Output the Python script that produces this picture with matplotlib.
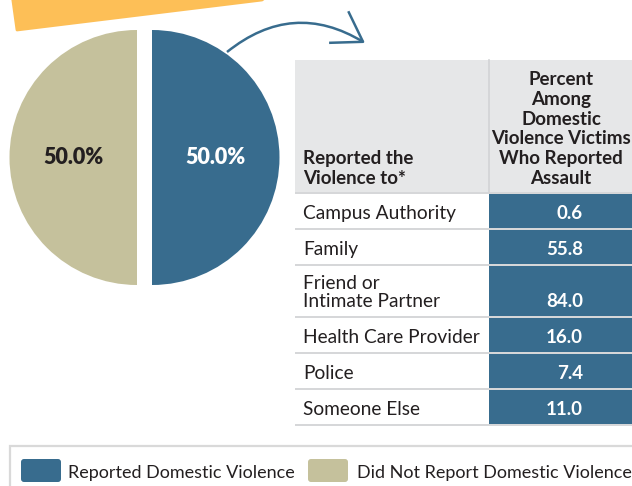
import matplotlib
matplotlib.use("Agg")
import matplotlib.pyplot as plt
from matplotlib.patches import Rectangle, Polygon, FancyArrowPatch, FancyBboxPatch

plt.rcParams["font.family"] = ["Lato", "DejaVu Sans"]

# Pie data
pie_labels = ["Reported Domestic Violence", "Did Not Report Domestic Violence"]
pie_values = [50.0, 50.0]

# Table data
table_title = "Reported the\nViolence to*"
value_title = "Percent\nAmong\nDomestic\nViolence Victims\nWho Reported\nAssault"
categories = ["Campus Authority", "Family", "Friend or\nIntimate Partner",
              "Health Care Provider", "Police", "Someone Else"]
values = [0.6, 55.8, 84.0, 16.0, 7.4, 11.0]

BLUE = "#386c8e"
TAN = "#c5c19c"
YELLOW = "#fdbf57"
HEADER_GRAY = "#e6e7e8"
RULE_GRAY = "#d6d7d9"
DARK = "#231f20"

W, H = 632, 486
fig = plt.figure(figsize=(W / 100, H / 100), dpi=100)
ax = fig.add_axes([0, 0, 1, 1])

# Banner strip at the top
ax.add_patch(Polygon([(12, -6), (270, -6), (262, 0), (17, 30)], closed=True,
                     facecolor=YELLOW, edgecolor=YELLOW, lw=2, joinstyle="round"))

# Split pie (explode offset is in data units here)
r = 127.5
wedges, texts, autotexts = ax.pie(
    pie_values, colors=[BLUE, TAN], startangle=90, counterclock=False,
    center=(144.5, 157.5), radius=r, explode=[7.5, 7.5],
    autopct="%.1f%%", pctdistance=0.5, wedgeprops=dict(linewidth=0),
    textprops=dict(fontsize=15.5, fontweight="heavy"))
for t, c in zip(autotexts, ["white", DARK]):
    t.set_color(c)

# Curved pointer from the pie to the table
ax.add_patch(FancyArrowPatch(
    posA=(227, 52), posB=(365, 43), connectionstyle="arc3,rad=-0.35",
    arrowstyle="->,head_length=20.5,head_width=13.3", mutation_scale=1,
    color=BLUE, lw=1.8, shrinkA=0, shrinkB=0, capstyle="butt"))

# Table layout
x_left, x_split, x_right = 295, 489, 640
header_top, header_bottom = 60, 192
ax.add_patch(Rectangle((x_left, header_top), x_right - x_left,
                       header_bottom - header_top, facecolor=HEADER_GRAY, lw=0))
ax.plot([x_split - 0.5, x_split - 0.5], [header_top, header_bottom],
        color="#d2d3d5", lw=1.2)
ax.text(303, header_bottom - 5, table_title, ha="left", va="bottom",
        fontsize=13.5, fontweight="bold", color=DARK, linespacing=1.2)
ax.text(561, header_bottom - 5, value_title, ha="center", va="bottom",
        multialignment="center", fontsize=13.5, fontweight="bold", color=DARK,
        linespacing=1.2)

gap = 2
y = header_bottom
ax.add_patch(Rectangle((x_left, y), x_right - x_left, gap, facecolor=RULE_GRAY, lw=0))
y += gap
for cat, val in zip(categories, values):
    h = 34 if "\n" not in cat else 50
    ax.add_patch(Rectangle((x_split, y), x_right - x_split, h, facecolor=BLUE, lw=0))
    ax.text(303, y + h - 6, cat, ha="left", va="bottom", fontsize=13.8,
            color=DARK, linespacing=1.05)
    ax.text(583, y + h - 6, f"{val:.1f}", ha="right", va="bottom", fontsize=13.5,
            fontweight="bold", color="white")
    y += h
    ax.add_patch(Rectangle((x_left, y), x_right - x_left, gap, facecolor=RULE_GRAY, lw=0))
    y += gap

# Legend panel
ax.add_patch(Rectangle((10, 446), 700, 80, facecolor="white",
                       edgecolor="#d9d9d9", lw=1.6))
legend_x = [(21, 68), (308, 357)]
for (sx, tx), lab, col in zip(legend_x, pie_labels, [BLUE, TAN]):
    ax.add_patch(FancyBboxPatch((sx + 2, 461), 36, 19,
                                boxstyle="round,pad=2,rounding_size=3",
                                facecolor=col, lw=0))
    ax.text(tx, 478, lab, ha="left", va="baseline", fontsize=13, color=DARK)

ax.set_xlim(0, W)
ax.set_ylim(H, 0)
ax.set_aspect("auto")
ax.axis("off")

fig.savefig("out.png", dpi=100)
